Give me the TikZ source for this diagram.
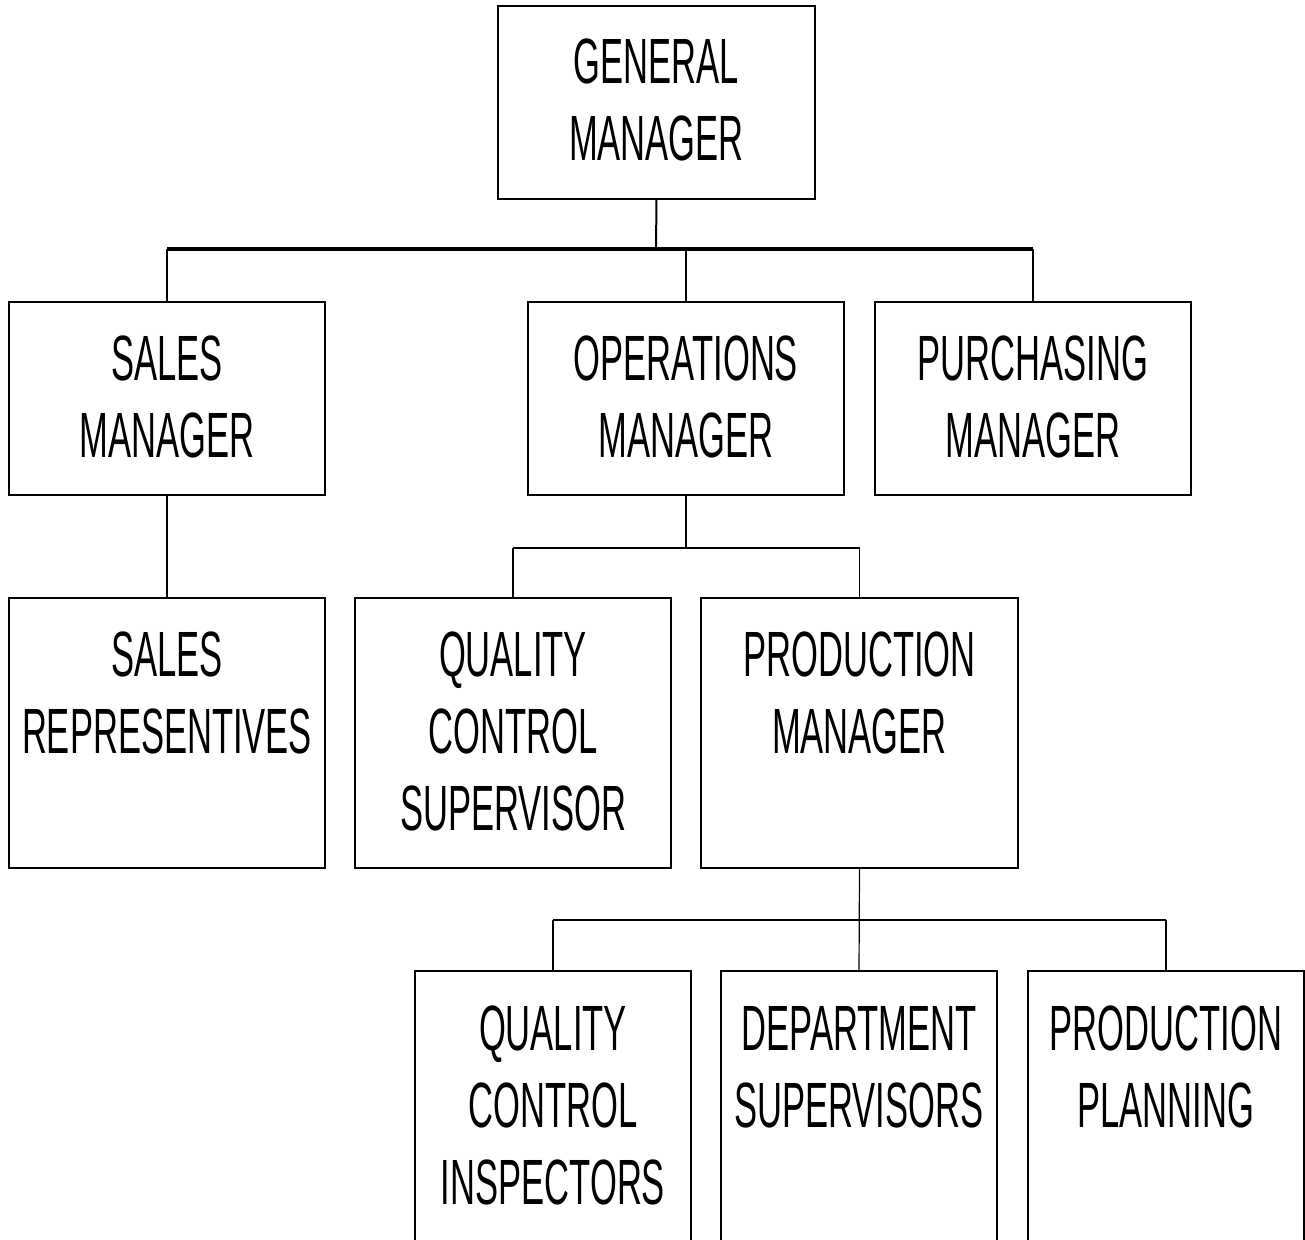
\documentclass[tikz,border=0pt]{standalone}
\usepackage{fontspec}
\setmainfont[FakeStretch=0.54]{Liberation Sans}
\begin{document}
\begin{tikzpicture}[x=1pt,y=-1pt,
  box/.style={draw, line width=1.5pt, inner sep=0pt, outer sep=0pt, anchor=north west},
  heavybox/.style={box, line width=2.5pt},
  lbl/.style={font=\fontsize{64}{77}\selectfont, align=center, inner sep=0pt, anchor=north},
  topline/.style={line width=3.5pt},
  upconn/.style={line width=2pt},
  midline/.style={line width=2.2pt},
  lowconn/.style={line width=1.2pt}]
\useasboundingbox (0,0) rectangle (1305,1239);
\clip (0,0) rectangle (1305,1239);
% boxes
\node[box, minimum width=317pt, minimum height=193pt] (gm) at (498,6) {};
\node[heavybox, minimum width=316pt, minimum height=193pt] (sm) at (9,302) {};
\node[box, minimum width=316pt, minimum height=193pt] (om) at (528,302) {};
\node[box, minimum width=316pt, minimum height=193pt] (pm) at (875,302) {};
\node[heavybox, minimum width=316pt, minimum height=270pt] (sr) at (9,598) {};
\node[box, minimum width=316pt, minimum height=270pt] (qcs) at (355,598) {};
\node[box, minimum width=317pt, minimum height=270pt] (prm) at (701,598) {};
\node[box, minimum width=276pt, minimum height=300pt] (qci) at (415,971) {};
\node[box, minimum width=276pt, minimum height=300pt] (ds) at (721,971) {};
\node[box, minimum width=276pt, minimum height=300pt] (pp) at (1028,971) {};
% labels
\node[lbl] (gmt) at ([yshift=-33pt]gm.north) {GENERAL\\MANAGER};
\node[lbl] (smt) at ([yshift=-34pt]sm.north) {SALES\\MANAGER};
\node[lbl] (omt) at ([yshift=-34pt]om.north) {OPERATIONS\\MANAGER};
\node[lbl] (pmt) at ([yshift=-34pt]pm.north) {PURCHASING\\MANAGER};
\node[lbl] (srt) at ([yshift=-34pt]sr.north) {SALES\\REPRESENTIVES};
\node[lbl] (qcst) at ([yshift=-34pt]qcs.north) {QUALITY\\CONTROL\\SUPERVISOR};
\node[lbl] (prmt) at ([yshift=-34pt]prm.north) {PRODUCTION\\MANAGER};
\node[lbl] (qcit) at ([yshift=-35pt]qci.north) {QUALITY\\CONTROL\\INSPECTORS};
\node[lbl] (dst) at ([yshift=-35pt]ds.north) {DEPARTMENT\\SUPERVISORS};
\node[lbl] (ppt) at ([yshift=-35pt]pp.north) {PRODUCTION\\PLANNING};
% junction coordinates
\coordinate (j1) at (656,249);
\coordinate (j2) at (686,548);
\coordinate (j3) at (859,920);
% top level connectors
\draw[upconn] (gm.south) -- (j1);
\draw[topline] (sm.north |- j1) -- (pm.north |- j1);
\draw[upconn] (sm.north |- j1) -- (sm.north);
\draw[upconn] (om.north |- j1) -- (om.north);
\draw[upconn] (pm.north |- j1) -- (pm.north);
% sales
\draw[upconn] (sm.south) -- (sr.north);
% operations
\draw[lowconn] (om.south) -- (j2);
\draw[midline] (qcs.north |- j2) -- (prm.north |- j2);
\draw[lowconn] (qcs.north |- j2) -- (qcs.north);
\draw[lowconn] (prm.north |- j2) -- (prm.north);
% production
\draw[lowconn] (prm.south) -- (ds.north);
\draw[midline] (qci.north |- j3) -- (pp.north |- j3);
\draw[lowconn] (qci.north |- j3) -- (qci.north);
\draw[lowconn] (pp.north |- j3) -- (pp.north);
\end{tikzpicture}
\end{document}
